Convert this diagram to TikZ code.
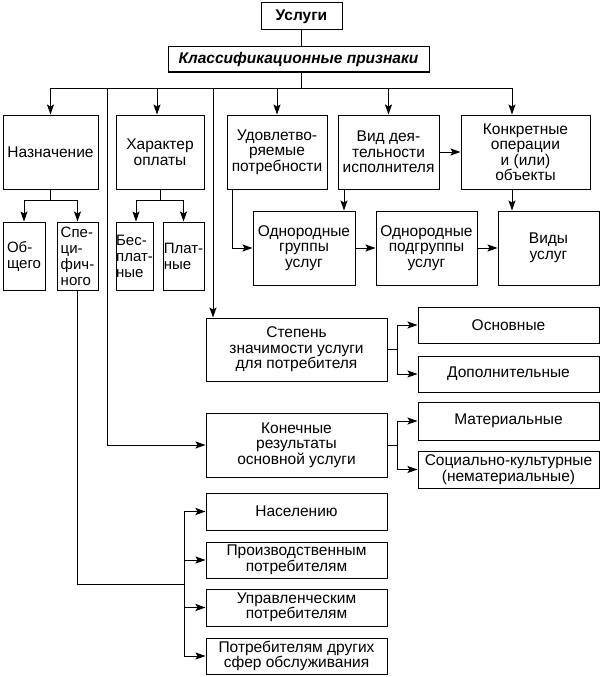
\documentclass[tikz,border=0pt]{standalone}
\usepackage{fontspec}
\setmainfont{Liberation Sans}
\usetikzlibrary{arrows.meta}
\begin{document}
\begin{tikzpicture}[x=1pt,y=-1pt,line width=1pt,
  box/.style={draw,inner sep=0pt,align=center},
  lbox/.style={draw,inner sep=0pt,align=left,font=\fontsize{15pt}{16pt}\selectfont},
  arr/.style={-{Stealth[length=10pt,width=7pt,inset=2pt]}},
  font=\fontsize{15.5pt}{15.5pt}\selectfont]
\useasboundingbox (0,0) rectangle (602,677);
% top
\node[box,minimum width=81pt,minimum height=27pt] (usl) at (301.5,16.5) {\bfseries Услуги};
\node[box,minimum width=261pt,minimum height=25pt] (klass) at (298.5,59.5) {\bfseries\itshape Классификационные признаки};
% row 1
\node[box,minimum width=95pt,minimum height=74pt] (naz) at (50.5,152) {Назначение};
\node[box,minimum width=88pt,minimum height=74pt] (har) at (160,152) {Характер\\оплаты};
\node[box,minimum width=100pt,minimum height=74pt] (udo) at (277,152) {Удовлетво-\\ряемые\\потребности};
\node[box,minimum width=101pt,minimum height=74pt] (vid) at (388.5,152) {Вид дея-\\тельности\\исполнителя};
\node[box,minimum width=129pt,minimum height=74pt] (kon) at (525.5,152) {Конкретные\\операции\\и (или)\\объекты};
% sub boxes
\node[lbox,minimum width=42pt,minimum height=68pt] (obsh) at (24,256) {Об-\\щего};
\node[lbox,minimum width=41pt,minimum height=68pt] (spec) at (77.5,256) {Спе-\\ци-\\фич-\\ного};
\node[lbox,minimum width=37pt,minimum height=68pt] (besp) at (134.5,256) {Бес-\\плат-\\ные};
\node[lbox,minimum width=41pt,minimum height=68pt] (plat) at (183.5,256) {Плат-\\ные};
% row 2
\node[box,minimum width=102pt,minimum height=74pt] (grp) at (304,248) {Однородные\\группы\\услуг};
\node[box,minimum width=101pt,minimum height=74pt] (pgr) at (426.5,248) {Однородные\\подгруппы\\услуг};
\node[box,minimum width=101pt,minimum height=74pt] (vidy) at (548.5,248) {Виды\\услуг};
% middle
\node[box,minimum width=181pt,minimum height=63pt] (stp) at (296.5,349.5) {Степень\\значимости услуги\\для потребителя};
\node[box,minimum width=181pt,minimum height=36pt] (osn) at (508.5,325) {Основные};
\node[box,minimum width=181pt,minimum height=36pt] (dop) at (508.5,374) {Дополнительные};
\node[box,minimum width=181pt,minimum height=64pt] (kone) at (296.5,445) {Конечные\\результаты\\основной услуги};
\node[box,minimum width=181pt,minimum height=38pt] (mat) at (508.5,421) {Материальные};
\node[box,minimum width=181pt,minimum height=37pt] (soc) at (508.5,469.5) {Социально-культурные\\(нематериальные)};
% consumers
\node[box,minimum width=181pt,minimum height=37pt] (nas) at (296.5,511.5) {Населению};
\node[box,minimum width=181pt,minimum height=36pt] (pro) at (296.5,560) {Производственным\\потребителям};
\node[box,minimum width=181pt,minimum height=37pt] (upr) at (296.5,607.5) {Управленческим\\потребителям};
\node[box,minimum width=181pt,minimum height=36pt] (pot) at (296.5,656) {Потребителям других\\сфер обслуживания};
% connectors top
\coordinate (bc) at (301,88);
\coordinate (b107) at (107,88);
\coordinate (b213) at (213,88);
\draw (usl.south) -- (usl.south |- klass.north);
\draw (klass.south -| bc) -- (bc);
\draw[arr] (bc) -| (naz.north);
\draw[arr] (bc) -| ([xshift=-3pt]har.north);
\draw[arr] (bc) -| (udo.north);
\draw[arr] (bc) -| (vid.north);
\draw[arr] (bc) -| ([xshift=-13.5pt]kon.north);
\draw[arr] (b107) |- (kone.west);
\draw[arr] (b213) -- (b213 |- stp.north);
% sub connectors
\coordinate (nz) at (50.5,200);
\coordinate (hz) at (160,200);
\draw (naz.south) -- (nz);
\draw[arr] (nz) -| (obsh.north);
\draw[arr] (nz) -| (spec.north);
\draw (har.south) -- (hz);
\draw[arr] (hz) -| ([xshift=1.5pt]besp.north);
\draw[arr] (hz) -| (plat.north);
% row 2 connectors
\draw[arr] ([xshift=-45pt]udo.south) |- (grp.west);
\draw[arr] ([xshift=-44.5pt]vid.south) -- ([xshift=-44.5pt]vid.south |- grp.north);
\draw[arr] (vid.east) -- (kon.west);
\draw[arr] (grp.east) -- (pgr.west);
\draw[arr] (pgr.east) -- (vidy.west);
\draw[arr] ([xshift=-13.5pt]kon.south) -- ([xshift=-13.5pt]kon.south |- vidy.north);
% forks
\coordinate (sf) at (397,349.5);
\draw (stp.east) -- (sf);
\draw[arr] (sf) |- (osn.west);
\draw[arr] (sf) |- (dop.west);
\coordinate (kf) at (397,445);
\draw (kone.east) -- (kf);
\draw[arr] (kf) |- (mat.west);
\draw[arr] (kf) |- (soc.west);
\coordinate (cf) at (184,584);
\draw (spec.south) |- (cf);
\draw[arr] (cf) |- (nas.west);
\draw[arr] (cf) |- (pro.west);
\draw[arr] (cf) |- (upr.west);
\draw[arr] (cf) |- (pot.west);
\end{tikzpicture}
\end{document}
